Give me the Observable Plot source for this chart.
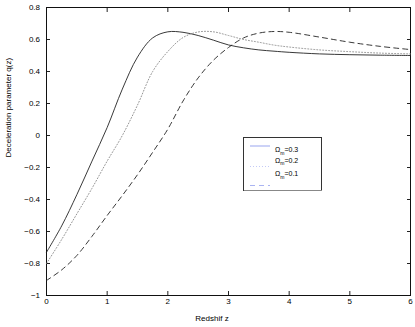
<!DOCTYPE html>
<html>
<head>
<meta charset="utf-8">
<script src="https://cdn.jsdelivr.net/npm/d3@7"></script>
<script src="https://cdn.jsdelivr.net/npm/@observablehq/plot@0.6"></script>
<style>
  body { margin: 0; background: white; }
  #wrap { position: relative; width: 415px; height: 327px; font-family: 'Liberation Sans', Arial, sans-serif; }
  #legend { position: absolute; left: 243px; top: 137px; }
</style>
</head>
<body>
<div id="wrap"></div>
<script>
// Redshift samples
const zValues = [0, 0.25, 0.5, 0.75, 1, 1.25, 1.5, 1.75, 2, 2.25, 2.5, 2.75, 3, 3.25, 3.5, 3.75, 4, 4.5, 5, 5.5, 6];
// Deceleration parameter q(z) for each Omega_m
const qOmega03 = [-0.73, -0.565, -0.37, -0.16, 0.05, 0.29, 0.49, 0.61, 0.648, 0.645, 0.625, 0.596, 0.566, 0.548, 0.535, 0.527, 0.52, 0.51, 0.505, 0.502, 0.50];
const qOmega02 = [-0.80, -0.65, -0.49, -0.33, -0.16, 0.0, 0.19, 0.40, 0.525, 0.612, 0.647, 0.648, 0.625, 0.60, 0.583, 0.565, 0.553, 0.535, 0.524, 0.515, 0.51];
const qOmega01 = [-0.906, -0.84, -0.75, -0.63, -0.50, -0.375, -0.245, -0.105, 0.04, 0.215, 0.36, 0.47, 0.55, 0.61, 0.64, 0.65, 0.645, 0.615, 0.583, 0.557, 0.537];
const omegaLabels = ["0.3", "0.2", "0.1"];
const xTicks = [0, 1, 2, 3, 4, 5, 6];
const yTicks = [-1, -0.8, -0.6, -0.4, -0.2, 0, 0.2, 0.4, 0.6, 0.8];
const xLabel = "Redshif z";
const yLabel = "Deceleration parameter q(z)";

const toRows = (qs) => zValues.map((z, i) => ({z, q: qs[i]}));
const fmt = d3.format("");

const chart = Plot.plot({
  width: 415,
  height: 327,
  marginLeft: 46,
  marginRight: 5,
  marginTop: 7,
  marginBottom: 32,
  style: {fontFamily: "'Liberation Sans', Arial, sans-serif", fontSize: "8px", background: "white", color: "#000"},
  x: {domain: [0, 6]},
  y: {domain: [-1, 0.8]},
  marks: [
    Plot.axisX(xTicks, {anchor: "bottom", tickSize: -4, tickPadding: 7, tickFormat: fmt, label: null, stroke: "#222"}),
    Plot.axisX(xTicks, {anchor: "top", tickSize: -4, tickFormat: () => "", label: null, stroke: "#222"}),
    Plot.axisY(yTicks, {anchor: "left", tickSize: -4, tickPadding: 10.5, tickFormat: fmt, label: null, stroke: "#222"}),
    Plot.axisY(yTicks, {anchor: "right", tickSize: -4, tickFormat: () => "", label: null, stroke: "#222"}),
    Plot.frame({stroke: "#111"}),
    Plot.line(toRows(qOmega03), {x: "z", y: "q", curve: "catmull-rom", stroke: "#222", strokeWidth: 0.9}),
    Plot.line(toRows(qOmega02), {x: "z", y: "q", curve: "catmull-rom", stroke: "#888", strokeWidth: 0.9, strokeDasharray: "1,2"}),
    Plot.line(toRows(qOmega01), {x: "z", y: "q", curve: "catmull-rom", stroke: "#222", strokeWidth: 0.9, strokeDasharray: "5,4"}),
    Plot.text([xLabel], {frameAnchor: "bottom", dx: -16.5, dy: 25, fontSize: 8, fill: "#000"}),
    Plot.text([yLabel], {frameAnchor: "left", rotate: -90, dx: -38, dy: 6, fontSize: 8, fill: "#000"})
  ]
});
document.getElementById("wrap").appendChild(chart);

// Legend (MATLAB-style box inside the axes)
const lw = 80, lh = 55;
const legend = d3.select("#wrap").append("svg")
  .attr("id", "legend").attr("width", lw).attr("height", lh);
legend.append("rect").attr("x", 0.5).attr("y", 0.5).attr("width", lw - 2).attr("height", lh - 2)
  .attr("fill", "white").attr("stroke", "#333").attr("stroke-width", 1);
legend.append("line").attr("x1", 1).attr("x2", lw - 1).attr("y1", lh - 1.5).attr("y2", lh - 1.5)
  .attr("stroke", "#888").attr("stroke-width", 1);
const swatchY = [9, 29.5, 48.5];
const textY = [15.3, 25.5, 39];
const dashes = [null, "1,2", "5,4"];
const swColors = ["#aab4f2", "#c4caf6", "#aab4f2"];
omegaLabels.forEach((lab, i) => {
  legend.append("line").attr("x1", 7).attr("x2", 27).attr("y1", swatchY[i]).attr("y2", swatchY[i])
    .attr("stroke", swColors[i]).attr("stroke-width", 1.2).attr("stroke-dasharray", dashes[i]);
  const t = legend.append("text").attr("x", 32).attr("y", textY[i])
    .attr("font-family", "'Liberation Sans', Arial, sans-serif").attr("font-size", 7).attr("fill", "#000");
  t.append("tspan").text("Ω");
  t.append("tspan").attr("font-size", 5).attr("dy", 2.5).text("m");
  t.append("tspan").attr("dy", -2.5).text("=" + lab);
});
</script>
</body>
</html>
